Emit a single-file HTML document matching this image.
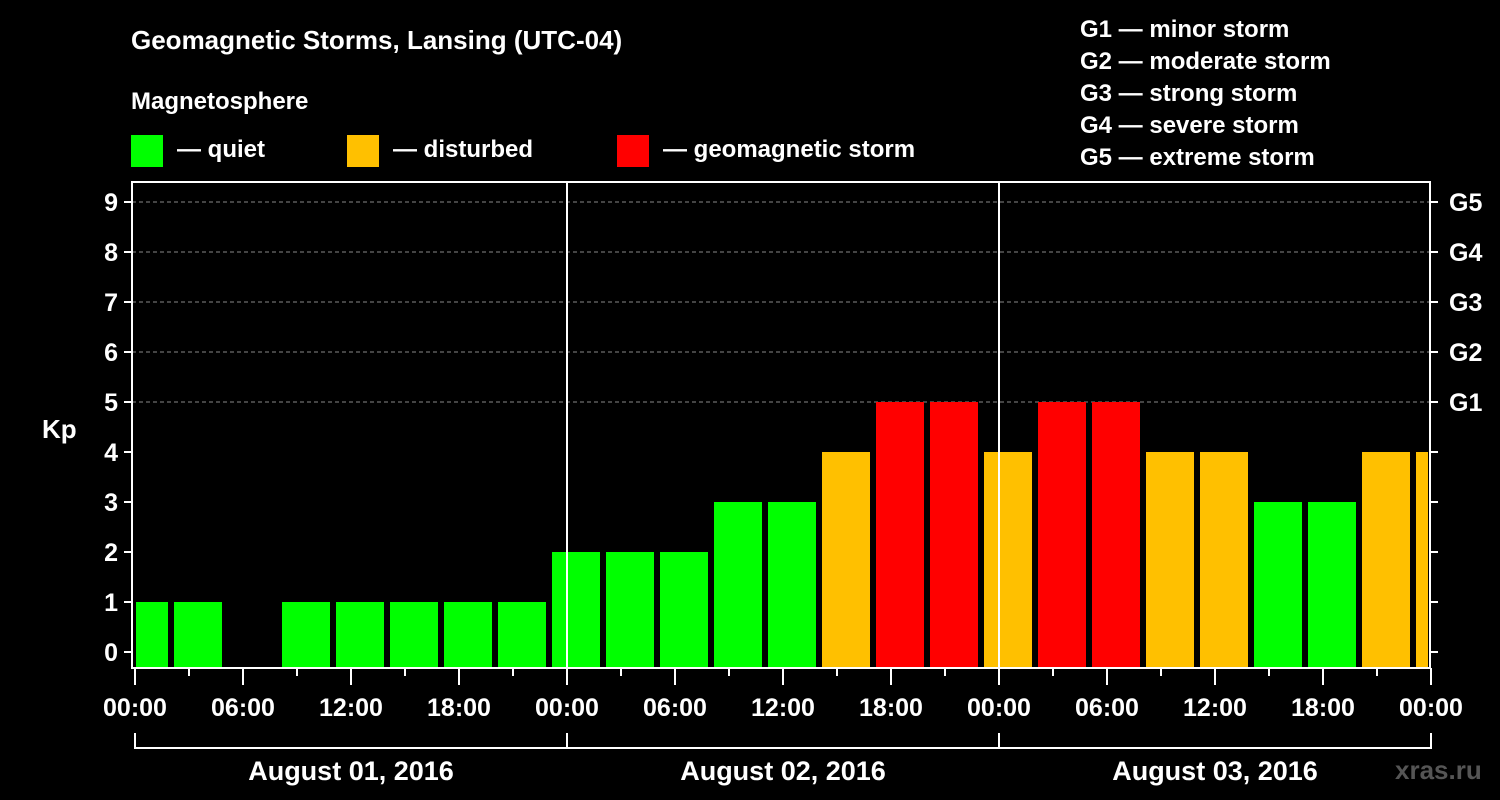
<!DOCTYPE html>
<html><head><meta charset="utf-8"><style>
html,body{margin:0;padding:0;background:#000;}
svg{display:block;font-family:"Liberation Sans",Arial,sans-serif;font-weight:bold;}
</style></head><body>
<svg id="c" width="1500" height="800" viewBox="0 0 1500 800" xmlns="http://www.w3.org/2000/svg">
<rect width="1500" height="800" fill="#000"/>
<text x="131" y="49" fill="#fff" font-size="26">Geomagnetic Storms, Lansing (UTC-04)</text>
<text x="131" y="109" fill="#fff" font-size="24">Magnetosphere</text>
<g><rect x="131" y="135" width="32" height="32" fill="#00ff00"/><text x="177" y="157" fill="#fff" font-size="24">— quiet</text></g>
<g><rect x="347" y="135" width="32" height="32" fill="#ffc000"/><text x="393" y="157" fill="#fff" font-size="24">— disturbed</text></g>
<g><rect x="617" y="135" width="32" height="32" fill="#ff0000"/><text x="663" y="157" fill="#fff" font-size="24">— geomagnetic storm</text></g>
<g fill="#fff" font-size="24">
<text x="1080" y="37">G1 — minor storm</text>
<text x="1080" y="69">G2 — moderate storm</text>
<text x="1080" y="101">G3 — strong storm</text>
<text x="1080" y="133">G4 — severe storm</text>
<text x="1080" y="165">G5 — extreme storm</text>
</g>
<text x="42" y="438" fill="#fff" font-size="26">Kp</text>
<text x="1395" y="779" fill="#555" font-size="26">xras.ru</text>
<g id="plot"></g>
</svg>
<script>
const kpValues=[1,1,0,1,1,1,1,1,2,2,2,3,3,4,5,5,4,5,5,4,4,3,3,4,4];
const firstBarHour=-1;
const yTicks=[0,1,2,3,4,5,6,7,8,9];
const gLabels=["G1","G2","G3","G4","G5"];
const gLevels=[5,6,7,8,9];
const xTickLabels=["00:00","06:00","12:00","18:00","00:00","06:00","12:00","18:00","00:00","06:00","12:00","18:00","00:00"];
const dayLabels=["August 01, 2016","August 02, 2016","August 03, 2016"];
const NS="http://www.w3.org/2000/svg";
const L=132,R=1430,T=182,B=668,X0=135,PXH=18;
const xs=h=>X0+h*PXH;
const ys=k=>652-k*50;
const g=document.getElementById('plot');
function mk(t,a,p){const e=document.createElementNS(NS,t);for(const k in a)e.setAttribute(k,a[k]);(p||g).appendChild(e);return e;}
// grid
gLevels.forEach(k=>{const e=mk('line',{x1:L,x2:R,y1:ys(k),y2:ys(k),stroke:'#888','stroke-dasharray':'4,3','stroke-width':1});

});
// bars
kpValues.forEach((v,i)=>{if(v<=0)return;const h0=firstBarHour+i*3;let x1=xs(h0)+3,x2=xs(h0+3)-3;x1=Math.max(x1,L+4);x2=Math.min(x2,R-2);
const c=v>=5?'#ff0000':v>=4?'#ffc000':'#00ff00';
const e=mk('rect',{x:x1,y:ys(v),width:x2-x1,height:B-1-ys(v),fill:c});

});
// day separators
[24,48].forEach(h=>{const e=mk('line',{x1:xs(h),x2:xs(h),y1:T,y2:B,stroke:'#fff','stroke-width':2});

});
// frame
const fr=mk('rect',{x:L,y:T,width:R-L,height:B-T,fill:'none',stroke:'#fff','stroke-width':2});


// y ticks
yTicks.forEach(k=>{mk('line',{x1:L-8,x2:L,y1:ys(k),y2:ys(k),stroke:'#fff','stroke-width':2});mk('line',{x1:R,x2:R+8,y1:ys(k),y2:ys(k),stroke:'#fff','stroke-width':2});
const t=mk('text',{x:L-14,y:ys(k)+9,fill:'#fff','font-size':25,'text-anchor':'end'});t.textContent=k;

});
gLabels.forEach((s,i)=>{const t=mk('text',{x:R+19,y:ys(gLevels[i])+9,fill:'#fff','font-size':25});t.textContent=s;

});
// x ticks
for(let h=0;h<=72;h+=3){const major=h%6===0;mk('line',{x1:xs(h),x2:xs(h),y1:B,y2:B+(major?17:8),stroke:'#fff','stroke-width':2});}
xTickLabels.forEach((s,i)=>{const t=mk('text',{x:xs(i*6),y:716,fill:'#fff','font-size':25,'text-anchor':'middle'});t.textContent=s;

});
dayLabels.forEach((s,i)=>{const a=xs(i*24),b=xs(i*24+24);
mk('path',{d:`M${a},733V748H${b}`+(i==2?'V733':''),stroke:'#fff','stroke-width':2,fill:'none'});
const t=mk('text',{x:(a+b)/2,y:780,fill:'#fff','font-size':27,'text-anchor':'middle'});t.textContent=s;

});
</script>
</body></html>
